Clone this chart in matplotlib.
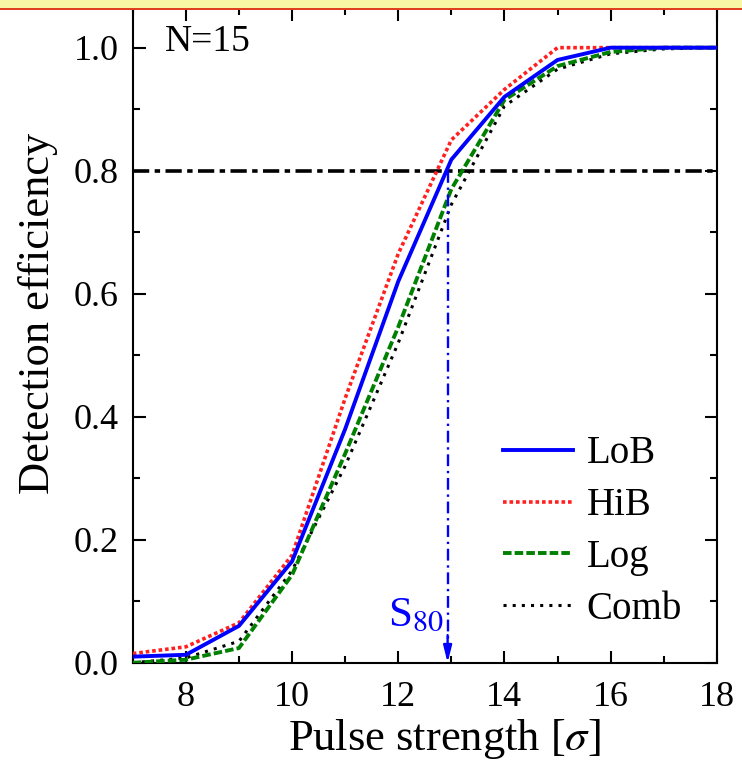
import numpy as np
import matplotlib
matplotlib.use("Agg")
import matplotlib.pyplot as plt
from matplotlib.patches import Rectangle
from matplotlib.ticker import MultipleLocator

plt.rcParams["font.family"] = ["Liberation Serif", "DejaVu Serif"]
plt.rcParams["mathtext.fontset"] = "stix"

# pulse strength values (sigma)
strength = [7, 8, 9, 10, 11, 12, 13, 14, 15, 16, 17, 18]
# detection efficiency per method
lob = [0.010, 0.013, 0.060, 0.165, 0.380, 0.620, 0.818, 0.920, 0.980, 1.000, 1.000, 1.000]
hib = [0.015, 0.026, 0.065, 0.175, 0.430, 0.665, 0.850, 0.932, 1.000, 1.000, 1.000, 1.000]
log = [0.000, 0.005, 0.024, 0.143, 0.340, 0.546, 0.770, 0.915, 0.970, 0.993, 1.000, 1.000]
comb = [0.000, 0.008, 0.035, 0.150, 0.320, 0.520, 0.745, 0.905, 0.965, 0.990, 0.998, 1.000]
level = 0.8
s80 = 12.93

fig = plt.figure(figsize=(7.42, 7.68), dpi=100)
ax = fig.add_axes([0.179, 0.137, 0.787, 0.853])

ax.plot(strength, lob, color="#0000ff", lw=2.8, ls="-", label="LoB", zorder=4)
ax.plot(strength, hib, color="#ff2020", lw=2.6, ls=(0, (1, 0.8)), label="HiB", zorder=3)
ax.plot(strength, log, color="#008000", lw=2.8, ls=(0, (2.2, 0.8)), label="Log", zorder=3)
ax.plot(strength, comb, color="black", lw=2.2, ls=(0, (1, 2.0)), label="Comb", zorder=2)

# 80% line and S80 marker
ax.axhline(level, color="black", lw=2.6, ls=(0, (4.5, 1.5, 1.5, 1.5)), zorder=1)
ax.plot([s80, s80], [level, 0.03], color="#0000ff", lw=1.7, ls=(0, (5, 2, 1, 2)), zorder=5)
ax.annotate("", xy=(s80, 0.0), xytext=(s80, 0.045),
            arrowprops=dict(arrowstyle="-|>,head_length=1.0,head_width=0.25",
                            color="#0000ff", lw=1.7, shrinkA=0, shrinkB=0))
ax.text(s80 - 0.06, 0.045, "S$_{80}$", color="#0000ff", fontsize=31,
        ha="right", va="bottom")

ax.text(0.055, 0.975, "N=15", transform=ax.transAxes, fontsize=27,
        ha="left", va="top")

ax.set_xlim(7, 18)
ax.set_ylim(0, 1.065)
ax.xaxis.set_major_locator(MultipleLocator(2))
ax.xaxis.set_minor_locator(MultipleLocator(1))
ax.yaxis.set_minor_locator(MultipleLocator(0.1))
ax.set_yticks([0.0, 0.2, 0.4, 0.6, 0.8, 1.0])
ax.set_yticklabels(["0.0", "0.2", "0.4", "0.6", "0.8", "1.0"])
ax.tick_params(which="both", direction="in", top=True, right=True, width=1.5, labelsize=26)
ax.tick_params(which="major", length=9)
ax.tick_params(which="minor", length=5)
ax.tick_params(axis="x", which="major", pad=13)
ax.tick_params(axis="y", which="major", pad=10)
for sp in ax.spines.values():
    sp.set_linewidth(1.5)

ax.set_xlabel(r"Pulse strength [$\sigma$]", fontsize=32)
ax.set_ylabel("Detection efficiency", fontsize=32)
ax.xaxis.set_label_coords(0.534, -0.082)
ax.yaxis.set_label_coords(-0.128, 0.533)

ax.legend(loc="lower right", bbox_to_anchor=(1.0, 0.0), frameon=False, fontsize=28,
          handlelength=1.8, handletextpad=0.35, labelspacing=0.38)

# yellow banner strip at the top
fig.patches.append(Rectangle((0, 1 - 8 / 768), 1, 8 / 768, transform=fig.transFigure,
                             facecolor="#f8f7a4", edgecolor="none", zorder=10))
fig.patches.append(Rectangle((0, 1 - 10 / 768), 1, 2 / 768, transform=fig.transFigure,
                             facecolor="#e04020", edgecolor="none", zorder=10))

fig.savefig("out.png", dpi=100)
